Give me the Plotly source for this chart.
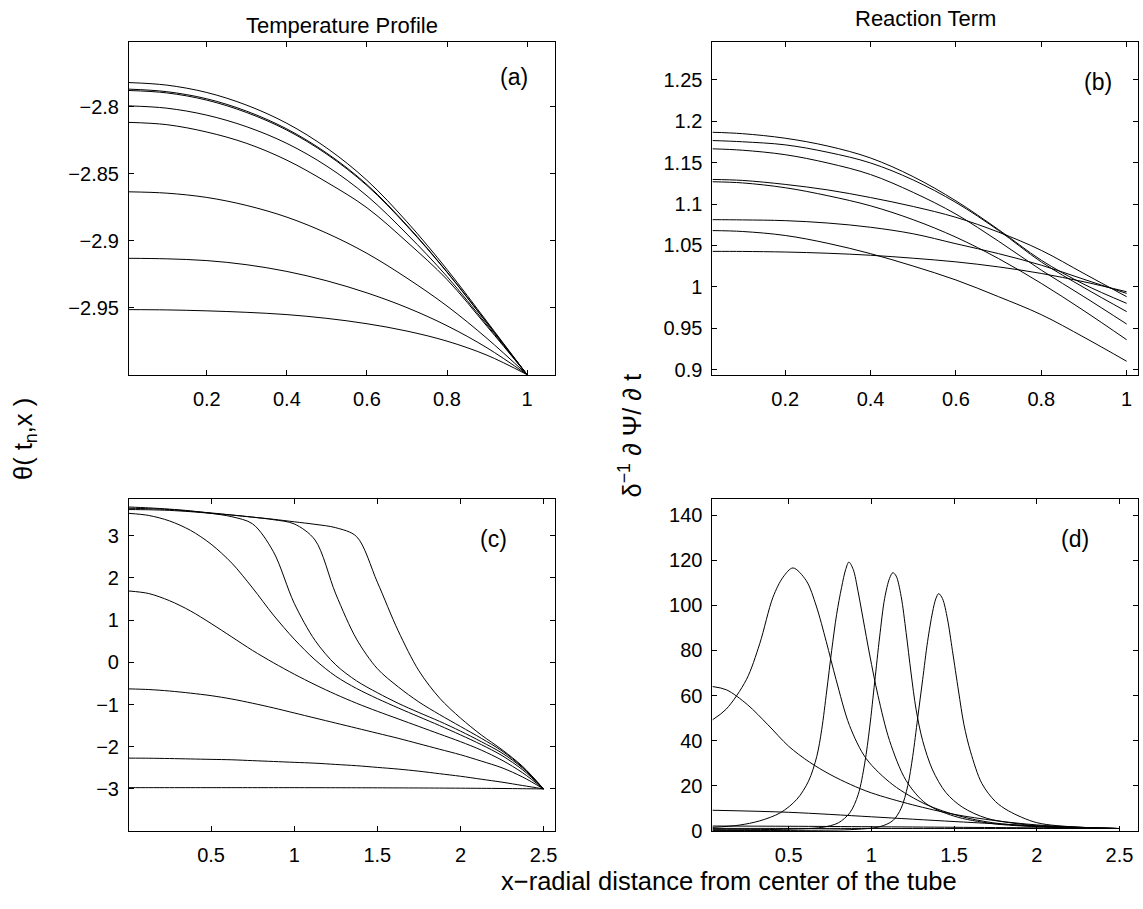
import plotly.graph_objects as go

W, H = 1143, 909

# ---------------- data ----------------
# (a) Temperature profile, small domain
a_x = [0.0055, 0.1, 0.2, 0.3, 0.4, 0.5, 0.6, 0.7, 0.8, 0.9, 1.0]
a_1 = [-2.7821, -2.7840, -2.7895, -2.7990, -2.8125, -2.8310, -2.8550, -2.8860, -2.9215, -2.9605, -3.0]
a_2 = [-2.7870, -2.7889, -2.7942, -2.8035, -2.8167, -2.8348, -2.8582, -2.8886, -2.9233, -2.9614, -3.0]
a_3 = [-2.7880, -2.7898, -2.7952, -2.8045, -2.8176, -2.8356, -2.8589, -2.8891, -2.9236, -2.9616, -3.0]
a_4 = [-2.7995, -2.8012, -2.8064, -2.8151, -2.8275, -2.8445, -2.8666, -2.8951, -2.9268, -2.9630, -3.0]
a_5 = [-2.8118, -2.8135, -2.8190, -2.8275, -2.8400, -2.8565, -2.8755, -2.9010, -2.9290, -2.9640, -3.0]
a_6 = [-2.8636, -2.8646, -2.8678, -2.8738, -2.8825, -2.8945, -2.9095, -2.9280, -2.9488, -2.9730, -3.0]
a_7 = [-2.9132, -2.9136, -2.9149, -2.9180, -2.9230, -2.9300, -2.9390, -2.9500, -2.9635, -2.9800, -3.0]
a_8 = [-2.9515, -2.9517, -2.9524, -2.9535, -2.9552, -2.9580, -2.9620, -2.9675, -2.9750, -2.9855, -3.0]

# (b) Reaction term, small domain
b_x = [0.0294, 0.1, 0.2, 0.3, 0.4, 0.5, 0.6, 0.7, 0.8, 0.9, 1.0]
b_1 = [1.1867, 1.1850, 1.1795, 1.1700, 1.1556, 1.1330, 1.1038, 1.0690, 1.0321, 1.0030, 0.9800]
b_2 = [1.1767, 1.1752, 1.1715, 1.1625, 1.1496, 1.1290, 1.1018, 1.0680, 1.0300, 0.9990, 0.9700]
b_3 = [1.1667, 1.1650, 1.1596, 1.1495, 1.1356, 1.1140, 1.0878, 1.0550, 1.0201, 0.9880, 0.9550]
b_4 = [1.1297, 1.1285, 1.1237, 1.1170, 1.1078, 1.0970, 1.0839, 1.0660, 1.0440, 1.0160, 0.9880]
b_5 = [1.1269, 1.1255, 1.1197, 1.1100, 1.0978, 1.0810, 1.0599, 1.0340, 1.0041, 0.9710, 0.9360]
b_6 = [1.0811, 1.0808, 1.0799, 1.0770, 1.0719, 1.0640, 1.0520, 1.0400, 1.0261, 1.0090, 0.9920]
b_7 = [1.0679, 1.0668, 1.0620, 1.0525, 1.0400, 1.0250, 1.0082, 0.9880, 0.9663, 0.9390, 0.9100]
b_8 = [1.0428, 1.0427, 1.0420, 1.0405, 1.0381, 1.0345, 1.0301, 1.0240, 1.0161, 1.0060, 0.9940]

# (c) Temperature profile, large domain
c_x = [0.006, 0.125, 0.25, 0.375, 0.5, 0.625, 0.75, 0.875, 1.0, 1.125, 1.25,
       1.375, 1.5, 1.625, 1.75, 1.875, 2.0, 2.125, 2.25, 2.375, 2.5]
c_0 = [-2.970, -2.970, -2.970, -2.970, -2.970, -2.970, -2.970, -2.970, -2.970, -2.971, -2.972,
       -2.973, -2.974, -2.976, -2.978, -2.980, -2.983, -2.986, -2.990, -2.995, -3.0]
c_1 = [-2.27, -2.273, -2.28, -2.29, -2.30, -2.31, -2.33, -2.35, -2.37, -2.39, -2.42,
       -2.45, -2.49, -2.53, -2.58, -2.64, -2.70, -2.77, -2.84, -2.92, -3.0]
c_2 = [-0.63, -0.645, -0.68, -0.73, -0.79, -0.87, -0.97, -1.08, -1.20, -1.32, -1.44,
       -1.56, -1.68, -1.80, -1.93, -2.06, -2.19, -2.34, -2.50, -2.72, -3.0]
c_3 = [1.69, 1.63, 1.46, 1.22, 0.92, 0.60, 0.28, -0.01, -0.28, -0.53, -0.76,
       -0.97, -1.16, -1.34, -1.52, -1.70, -1.88, -2.08, -2.32, -2.62, -3.0]
c_4 = [3.53, 3.48, 3.35, 3.13, 2.80, 2.35, 1.76, 1.12, 0.55, 0.06, -0.33,
       -0.62, -0.86, -1.08, -1.29, -1.50, -1.72, -1.95, -2.21, -2.55, -3.0]
c_5 = [3.68, 3.66, 3.63, 3.59, 3.53, 3.45, 3.28, 2.62, 1.40, 0.52, -0.06,
       -0.44, -0.72, -0.97, -1.19, -1.40, -1.63, -1.88, -2.15, -2.51, -3.0]
c_6 = [3.65, 3.64, 3.62, 3.58, 3.54, 3.49, 3.44, 3.38, 3.28, 2.90, 1.62,
       0.55, -0.15, -0.58, -0.94, -1.24, -1.52, -1.80, -2.10, -2.49, -3.0]
c_7 = [3.62, 3.615, 3.60, 3.57, 3.53, 3.49, 3.44, 3.39, 3.33, 3.27, 3.19,
       2.98, 1.90, 0.75, -0.20, -0.85, -1.32, -1.72, -2.07, -2.47, -3.0]

# (d) Reaction term, large domain
d_x_flat = [0.039, 0.5, 1.0, 1.5, 2.0, 2.5]
d_0 = [1.05, 1.05, 1.04, 1.03, 1.02, 1.0]
d_1 = [2.1, 2.0, 1.8, 1.55, 1.3, 1.0]
d_2 = [9.1, 8.2, 6.2, 4.1, 2.2, 1.0]
d_3_x = [0.039, 0.125, 0.25, 0.375, 0.5, 0.625, 0.75, 0.875, 1.0, 1.25, 1.5,
         1.75, 2.0, 2.25, 2.5]
d_3 = [64.0, 62.5, 56.0, 47.0, 37.5, 30.5, 25.0, 20.5, 16.8, 11.5, 7.3,
       4.5, 2.6, 1.6, 1.0]
d_4_x = [0.039, 0.123, 0.244, 0.325, 0.405, 0.466, 0.526, 0.606, 0.667, 0.727,
         0.787, 0.868, 0.969, 1.13, 1.33, 1.53, 1.73, 2.0, 2.25, 2.5]
d_4 = [49.2, 54.0, 67.0, 83.0, 103.6, 112.5, 116.6, 111.0, 99.7, 84.0,
       67.0, 46.7, 32.0, 20.4, 11.7, 6.6, 3.6, 1.9, 1.3, 1.0]
d_5_x = [0.039, 0.2, 0.325, 0.45, 0.55, 0.62, 0.67, 0.70, 0.73, 0.76, 0.79, 0.82,
         0.845, 0.864, 0.89, 0.92, 0.95, 0.99, 1.04, 1.11, 1.21, 1.33, 1.5, 1.73,
         2.0, 2.25, 2.5]
d_5 = [1.5, 2.5, 4.4, 8.0, 14.0, 22.0, 33.0, 45.0, 62.0, 80.0, 96.0, 108.0,
       116.0, 119.2, 116.0, 106.0, 94.0, 78.0, 60.0, 40.0, 22.3, 12.1, 6.5, 3.2,
       1.8, 1.3, 1.0]
d_6_x = [0.039, 0.5, 0.7, 0.8, 0.87, 0.92, 0.96, 0.99, 1.02, 1.05, 1.08, 1.11,
         1.13, 1.15, 1.18, 1.21, 1.24, 1.27, 1.31, 1.37, 1.45, 1.55, 1.7, 2.0,
         2.25, 2.5]
d_6 = [0.5, 0.7, 1.5, 3.5, 8.0, 16.0, 30.0, 46.0, 66.0, 86.0, 103.0, 112.0,
       114.5, 113.0, 104.0, 88.0, 70.0, 54.0, 40.0, 27.0, 17.0, 10.5, 5.5, 2.2,
       1.4, 1.0]
d_7_x = [0.039, 0.6, 0.9, 1.05, 1.13, 1.18, 1.22, 1.25, 1.28, 1.31, 1.34, 1.37,
         1.39, 1.407, 1.43, 1.46, 1.49, 1.527, 1.56, 1.6, 1.668, 1.75, 1.83, 2.0,
         2.25, 2.5]
d_7 = [0.15, 0.2, 0.6, 1.8, 4.5, 10.0, 20.0, 33.0, 50.0, 67.0, 84.0, 97.0,
       103.0, 105.2, 103.0, 94.0, 80.0, 62.0, 47.0, 35.0, 21.0, 13.0, 8.8, 3.6,
       1.6, 1.0]

# tick values / labels
a_xt = [0.2, 0.4, 0.6, 0.8, 1.0]
a_xl = ["0.2", "0.4", "0.6", "0.8", "1"]
a_yt = [-2.95, -2.9, -2.85, -2.8]
a_yl = ["\u22122.95", "\u22122.9", "\u22122.85", "\u22122.8"]
b_yt = [0.9, 0.95, 1.0, 1.05, 1.1, 1.15, 1.2, 1.25]
b_yl = ["0.9", "0.95", "1", "1.05", "1.1", "1.15", "1.2", "1.25"]
c_xt = [0.5, 1.0, 1.5, 2.0, 2.5]
c_xl = ["0.5", "1", "1.5", "2", "2.5"]
c_yt = [-3, -2, -1, 0, 1, 2, 3]
c_yl = ["\u22123", "\u22122", "\u22121", "0", "1", "2", "3"]
d_yt = [0, 20, 40, 60, 80, 100, 120, 140]
d_yl = ["0", "20", "40", "60", "80", "100", "120", "140"]

# ---------------- figure ----------------
FONT = "Liberation Sans, Arial, Helvetica, sans-serif"

fig = go.Figure()

def add(xs, ys, xa, ya, smooth=1.0):
    fig.add_trace(go.Scatter(x=xs, y=ys, mode="lines",
                             line=dict(color="black", width=1,
                                       shape="spline", smoothing=smooth),
                             xaxis=xa, yaxis=ya, showlegend=False,
                             hoverinfo="skip"))

for ys in [a_1, a_2, a_3, a_4, a_5, a_6, a_7, a_8]:
    add(a_x, ys, "x", "y")
for ys in [b_1, b_2, b_3, b_4, b_5, b_6, b_7, b_8]:
    add(b_x, ys, "x2", "y2")
for ys in [c_0, c_1, c_2, c_3, c_4, c_5, c_6, c_7]:
    add(c_x, ys, "x3", "y3", 0.9)
for xs, ys in [(d_x_flat, d_0), (d_x_flat, d_1), (d_x_flat, d_2), (d_3_x, d_3),
               (d_4_x, d_4), (d_5_x, d_5), (d_6_x, d_6), (d_7_x, d_7)]:
    add(xs, ys, "x4", "y4", 0.9)

def px(x):
    return x / W

def py(y):
    return 1 - y / H

XL = [px(129.3), px(556.0)]
XR = [px(714.3), px(1141.3)]
YT = [py(379.5), py(42.7)]
YB = [py(840.7), py(504.3)]

def axis(domain, rng, tv, tt, anchor, is_x):
    return dict(domain=domain, range=rng, tickmode="array", tickvals=tv,
                ticktext=tt, showgrid=False, zeroline=False, showline=True,
                linecolor="black", linewidth=1, mirror="ticks", ticks="inside",
                ticklen=5, tickwidth=1, tickcolor="black", anchor=anchor,
                tickfont=dict(family=FONT, size=20, color="black"),
                ticklabelstandoff=6 if is_x else 5)

fig.update_layout(
    width=W, height=H, autosize=False,
    margin=dict(l=0, r=0, t=0, b=0),
    paper_bgcolor="white", plot_bgcolor="white",
    xaxis=axis(XL, [0.0055, 1.0686], a_xt, a_xl, "y", True),
    yaxis=axis(YT, [-3.0005, -2.752], a_yt, a_yl, "x", False),
    xaxis2=axis(XR, [0.0294, 1.0273], a_xt, a_xl, "y2", True),
    yaxis2=axis(YT, [0.893, 1.2955], b_yt, b_yl, "x2", False),
    xaxis3=axis(XL, [0.006, 2.566], c_xt, c_xl, "y3", True),
    yaxis3=axis(YB, [-4.008, 3.876], c_yt, c_yl, "x3", False),
    xaxis4=axis(XR, [0.039, 2.614], c_xt, c_xl, "y4", True),
    yaxis4=axis(YB, [-0.3, 147.3], d_yt, d_yl, "x4", False),
)

def note(text, x, y, size, angle=0):
    fig.add_annotation(text=text, x=px(x), y=py(y), xref="paper", yref="paper",
                       showarrow=False, xanchor="center", yanchor="middle",
                       textangle=angle,
                       font=dict(family=FONT, size=size, color="black"))

note("Temperature Profile", 342.7, 25.7, 22)
note("Reaction Term", 927.8, 18.3, 22)
note("(a)", 515, 78, 23)
note("(b)", 1101, 83, 23)
note("(c)", 495, 545, 23)
note("(d)", 1078, 545, 23)
note("\u03b8( t<sub>n</sub>,x )", 25, 444, 25.5, -90)
note("\u03b4<sup>\u22121</sup> \u2202 \u03a8/ \u2202 t", 632, 440, 25.5, -90)
note("x\u2212radial distance from center of the tube", 730.6, 891, 25.5)

fig.write_html("out.html")
